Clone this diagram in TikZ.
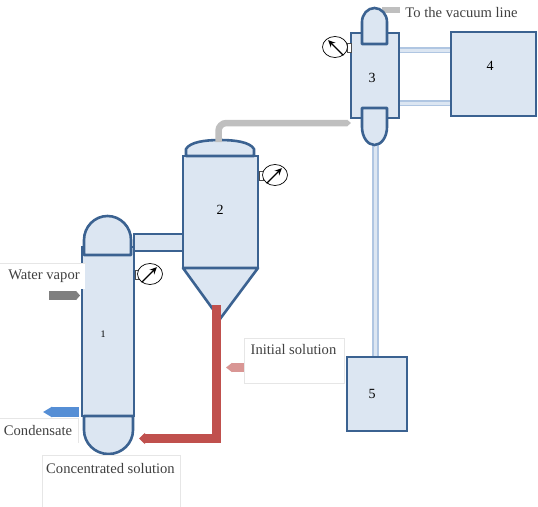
\documentclass[tikz,border=0pt]{standalone}
\usepackage{fontspec}
\setmainfont{Liberation Serif}
\usetikzlibrary{arrows.meta,shapes.geometric}
\definecolor{vline}{HTML}{3B6291}
\definecolor{vfill}{HTML}{DCE6F2}
\definecolor{pline}{HTML}{B0C6E2}
\definecolor{boxline}{HTML}{E6E6E6}
\definecolor{txtgray}{HTML}{404040}
\definecolor{feedred}{HTML}{C0504D}
\definecolor{feedpink}{HTML}{D99694}
\definecolor{vapgray}{HTML}{7F7F7F}
\definecolor{condblue}{HTML}{558ED5}
\begin{document}
\begin{tikzpicture}[x=1pt, y=-1pt,
          vessel/.style={rectangle, draw=vline, fill=vfill, line width=2.6pt, inner sep=0pt},
          shell/.style={draw=vline, fill=vfill, line width=2.6pt, line join=round},
          pipe/.style={draw=pline, double=vfill, double distance=3pt, line width=1.6pt},
          gauge/.style={ellipse, draw=black, fill=white, line width=0.7pt, inner sep=0pt, minimum width=25pt, minimum height=21pt},
          stub/.style={rectangle, draw=black!70, fill=white, line width=0.6pt, inner sep=0pt, minimum width=4pt, minimum height=9pt},
          needle/.style={-{Stealth[length=7pt,width=6.5pt]}, black, line width=1.2pt, shorten >=2pt},
          flow/.style={line cap=butt},
          num/.style={font=\fontsize{14}{16}\selectfont, text=black, inner sep=0pt},
          lbl/.style={font=\fontsize{14.6}{17}\selectfont, text=txtgray, inner sep=0pt},
          txtbox/.style={rectangle, draw=boxline, fill=white, line width=0.7pt, inner sep=0pt, anchor=north west}]
        \useasboundingbox (0,0) rectangle (538,506);
        % pipes first
        \coordinate (P1) at (425,50);
        \coordinate (P2) at (425,103);
        \coordinate (P3) at (375.5,140);
        \coordinate (Vac) at (400,10);
        \coordinate (VacIn) at (382,10);
        \node[vessel, minimum width=49pt, minimum height=17pt] (C12) at (158.5,242.5) {};
        \node[vessel, minimum width=85pt, minimum height=84pt] (B4) at (493.5,74) {};
        \node[vessel, minimum width=60pt, minimum height=74pt, line width=2.2pt] (B5) at (377,394) {};
        \draw[pipe] (P3) -- (B5.north -| P3);
        \draw[line width=6pt, gray!50] (VacIn) -- (Vac);
        % vessels
        \node[vessel, minimum width=52pt, minimum height=169pt] (V1) at (108,331.5) {};
        \node[vessel, minimum width=75pt, minimum height=112pt] (V2) at (220.5,212) {};
        \node[vessel, minimum width=48pt, minimum height=85pt] (V3) at (375,75.5) {};
        \draw[pipe] (V3.east |- P1) -- (B4.west |- P1);
        \draw[pipe] (V3.east |- P2) -- (B4.west |- P2);
        % domes and cone
        \draw[shell] (84,255) -- (84,240) arc[start angle=180, end angle=0, x radius=23.5pt, y radius=24pt] -- (131,255) -- cycle;
        \draw[shell] (84,416) -- (84,430) arc[start angle=180, end angle=360, x radius=24.5pt, y radius=24pt] -- (133,416) -- cycle;
        \draw[shell] (186,156) -- (186,149) .. controls (190,142) and (205,140) .. (220,140) .. controls (235,140) and (250,142) .. (254,149) -- (254,156) -- cycle;
        \draw[shell] (183,268) -- (258,268) -- (220,319) -- cycle;
        \draw[shell] (362,44) -- (362,22) arc[start angle=180, end angle=0, x radius=12.5pt, y radius=14pt] -- (387,44) -- cycle;
        \draw[shell] (362,108) -- (362,127) arc[start angle=180, end angle=360, x radius=12.5pt, y radius=18pt] -- (387,108) -- cycle;
        % gauges
        \foreach \n/\x/\y/\sx in {1/150/274/137, 2/275/175/261, 3/335/47/349}{
            \node[stub] (S\n) at (\sx,\y+1) {};
            \node[gauge] (G\n) at (\x,\y) {};
        }
        \draw[needle] (G1.225) -- (G1.45);
        \draw[needle] (G2.225) -- (G2.45);
        \draw[needle] (G3.315) -- (G3.135);
        % flows
        \coordinate (Top2) at (218.5,142);
        \coordinate (In3) at (351,123);
        \coordinate (Feed) at (216.5,305);
        \coordinate (Corner) at (216.5,438.5);
        \coordinate (Out) at (139,438.5);
        \coordinate (InitA) at (244,367.5);
        \coordinate (InitB) at (226,367.5);
        \coordinate (VapA) at (49,295.5);
        \coordinate (VapB) at (80,295.5);
        \coordinate (CondA) at (79,412);
        \coordinate (CondB) at (43,412);
        \draw[flow, line width=6.5pt, gray!50, rounded corners=8pt, -{Triangle[length=4pt,width=6.5pt]}] (Top2) |- (In3);
        \draw[flow, line width=9pt, feedred, -{Triangle[length=6pt,width=11pt]}] (Feed) -- (Corner) -- (Out);
        \draw[flow, line width=9pt, feedpink, -{Triangle[length=6pt,width=9pt]}] (InitA) -- (InitB);
        \draw[flow, line width=9pt, vapgray, -{Triangle[length=4pt,width=9pt]}] (VapA) -- (VapB);
        \draw[flow, line width=10pt, condblue, -{Triangle[length=9pt,width=10pt]}] (CondA) -- (CondB);
        % text boxes
        \node[txtbox, draw=none, minimum width=85pt, minimum height=26pt] (WaterBox) at (0,263) {};
        \draw[boxline, line width=0.7pt] (WaterBox.north west) -- (WaterBox.north east);
        \node[lbl] (WaterTxt) at (44,276) {Water vapor};
        \node[txtbox, minimum width=100pt, minimum height=45pt] (InitBox) at (243.5,337.5) {};
        \node[lbl] (InitTxt) at (293.5,350) {Initial solution};
        \node[txtbox, draw=none, minimum width=78pt, minimum height=24pt] (CondBox) at (0,418.5) {};
        \draw[boxline, line width=0.7pt] (CondBox.north west) -- (CondBox.north east) -- (CondBox.south east);
        \node[lbl] (CondTxt) at (38,431) {Condensate};
        \node[txtbox, minimum width=138pt, minimum height=60pt] (ConcBox) at (41.5,454.5) {};
        \node[lbl] (ConcTxt) at (110.5,468) {Concentrated solution};
        \node[lbl] (VacTxt) at (461.5,13) {To the vacuum line};
        % numbers
        \node[num, font=\fontsize{10}{12}\selectfont] (N1) at (103,334) {1};
        \node[num] (N2) at (220,210) {2};
        \node[num] (N3) at (372,78) {3};
        \node[num] (N4) at (490,66) {4};
        \node[num] (N5) at (372,394) {5};
      \end{tikzpicture}
\end{document}
